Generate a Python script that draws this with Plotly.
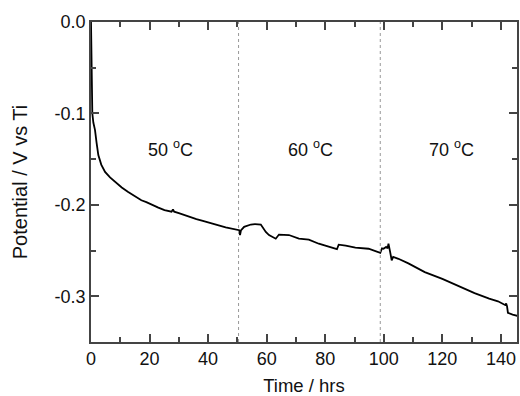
import plotly.graph_objects as go

time_hrs = [0.0, 0.1, 0.2, 0.3, 0.45, 0.8, 1.36, 1.9, 2.5, 3.5, 4.8, 6.5, 8.2, 10.5, 12.7, 15.0,
            17.2, 18.9, 19.3, 20.6, 23.0, 25.1, 27.5, 28.0, 28.4, 30.0, 33.0, 36.0, 38.2, 42.0,
            46.0, 50.6, 50.9, 51.2, 52.3, 54.6, 56.0, 58.0, 59.7, 60.8, 62.0, 63.1, 64.2, 67.6,
            71.0, 74.4, 77.8, 81.0, 83.5, 84.0, 84.6, 87.0, 90.3, 94.8, 98.8, 99.4, 99.9, 100.8,
            101.3, 101.6, 102.2, 102.7, 103.2, 105.0, 108.4, 114.0, 120.0, 125.4, 131.0, 136.0,
            139.0, 141.4, 141.8, 142.1, 142.4, 144.0, 145.8]
potential = [0.0, -0.015, -0.035, -0.06, -0.1, -0.11, -0.118, -0.132, -0.1455, -0.156, -0.164,
             -0.17, -0.175, -0.181, -0.186, -0.191, -0.195, -0.197, -0.1975, -0.2, -0.203,
             -0.2058, -0.2075, -0.205, -0.2075, -0.209, -0.2125, -0.2155, -0.2175, -0.221,
             -0.2245, -0.2277, -0.233, -0.228, -0.224, -0.2215, -0.221, -0.2215, -0.2296, -0.233,
             -0.235, -0.237, -0.2325, -0.233, -0.237, -0.238, -0.2425, -0.2455, -0.248, -0.2485,
             -0.2435, -0.2445, -0.2468, -0.248, -0.2525, -0.2475, -0.248, -0.246, -0.2475,
             -0.2425, -0.252, -0.2606, -0.257, -0.259, -0.264, -0.2735, -0.281, -0.289, -0.2965,
             -0.3025, -0.3055, -0.3095, -0.308, -0.311, -0.318, -0.32, -0.3215]

boundaries = [50.4, 98.8]
region_labels = ["50 <sup>o</sup>C", "60 <sup>o</sup>C", "70 <sup>o</sup>C"]
region_x = [27, 75, 123]
region_y = -0.138

x_ticks = [0, 20, 40, 60, 80, 100, 120, 140]
x_minor = [10, 30, 50, 70, 90, 110, 130]
y_ticks = [0.0, -0.1, -0.2, -0.3]
y_tick_text = ["0.0", "-0.1", "-0.2", "-0.3"]
y_minor = [-0.05, -0.15, -0.25, -0.35]

font = "Liberation Sans, Arial, sans-serif"
axis_color = "#444444"

fig = go.Figure()
fig.add_trace(go.Scatter(x=time_hrs, y=potential, mode="lines",
                         line=dict(color="black", width=1.8), showlegend=False))

for b in boundaries:
    fig.add_shape(type="line", x0=b, x1=b, y0=0, y1=1, yref="paper",
                  line=dict(color="#999999", width=1, dash="dot"))

for lx, lt in zip(region_x, region_labels):
    fig.add_annotation(x=lx, y=region_y, text=lt, showarrow=False,
                       font=dict(family=font, size=18, color="#111111"))

fig.update_layout(
    width=520, height=396,
    margin=dict(l=91, r=1, t=22, b=54),
    plot_bgcolor="white", paper_bgcolor="white",
    font=dict(family=font, size=18, color="#111111"),
)
fig.update_xaxes(range=[0, 145.5], tickmode="array", tickvals=x_ticks, ticks="inside", ticklen=8,
                 tickcolor=axis_color, tickwidth=1.5,
                 minor=dict(tickmode="array", tickvals=x_minor, ticks="inside", ticklen=5,
                            tickcolor=axis_color, tickwidth=1.5),
                 showline=True, linecolor=axis_color, linewidth=1.5, mirror="ticks",
                 showgrid=False, zeroline=False,
                 title=dict(text="Time / hrs", font=dict(size=18.5), standoff=11),
                 tickfont=dict(size=18))
fig.update_yaxes(range=[-0.35, 0.0], tickmode="array", tickvals=y_ticks, ticktext=y_tick_text,
                 ticks="inside", ticklen=8, tickcolor=axis_color, tickwidth=1.5,
                 minor=dict(tickmode="array", tickvals=y_minor, ticks="inside", ticklen=5,
                            tickcolor=axis_color, tickwidth=1.5),
                 showline=True, linecolor=axis_color, linewidth=1.5, mirror="ticks",
                 showgrid=False, zeroline=False,
                 title=dict(text="Potential / V vs Ti", font=dict(size=20), standoff=22),
                 tickfont=dict(size=18))

fig.write_html("out.html")
